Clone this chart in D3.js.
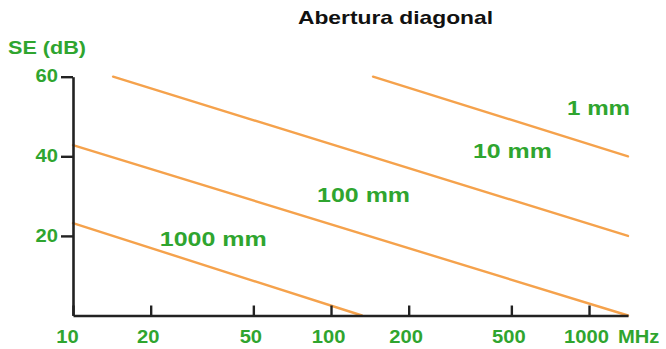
<!DOCTYPE html>
<html>
<head>
<meta charset="utf-8">
<script src="https://cdn.jsdelivr.net/npm/d3@7"></script>
<style>
  html, body { margin: 0; padding: 0; background: #fff; }
  svg { display: block; }
  text { font-family: "Liberation Sans", Arial, sans-serif; font-weight: bold; }
</style>
</head>
<body>
<svg id="chart" width="666" height="349"></svg>
<script>
// Shielding effectiveness of a slot versus frequency, per aperture diagonal
const apertures = ["1 mm", "10 mm", "100 mm", "1000 mm"];
const freqStart = [145.5, 14.3, 10, 10];      // MHz
const seStart   = [60, 60, 42.8, 23.2];       // dB
const freqEnd   = [1416, 1416, 1416, 131.8];  // MHz
const seEnd     = [40, 20, 0, 0];             // dB

const xTicks = [10, 20, 50, 100, 200, 500, 1000];
const yTicks = [20, 40, 60];

// Where each aperture label sits (left edge / baseline, in data units)
const labelFreq = [822, 355, 88.3, 21.7];
const labelSE   = [50.4, 39.6, 28.5, 17.5];
const labelWidth = [63, 79, 93, 107];

const GREEN = "#2fa52f";
const ORANGE = "#f5a24c";
const AXIS = "#222";

const svg = d3.select("#chart");

const x = d3.scaleLog().domain([10, 1416]).range([73, 628]);
const y = d3.scaleLinear().domain([0, 60]).range([315.5, 76.7]);

// stretch text horizontally by a factor, keeping its left/anchor position
function widen(sel, k) {
  sel.each(function () {
    const w = this.getComputedTextLength();
    d3.select(this).attr("textLength", w * k).attr("lengthAdjust", "spacingAndGlyphs");
  });
}

// Title
svg.append("text")
  .attr("x", 395.5).attr("y", 24)
  .attr("text-anchor", "middle")
  .attr("font-size", 19)
  .attr("fill", "#111")
  .text("Abertura diagonal")
  .call(widen, 1.2);

// Y axis title
svg.append("text")
  .attr("x", 8).attr("y", 54)
  .attr("font-size", 18)
  .attr("fill", GREEN)
  .text("SE (dB)")
  .call(widen, 1.2);

// Aperture lines
const lines = apertures.map((a, i) => [[freqStart[i], seStart[i]], [freqEnd[i], seEnd[i]]]);
const lineGen = d3.line().x(d => x(d[0])).y(d => y(d[1]));
svg.append("g")
  .selectAll("path")
  .data(lines)
  .join("path")
  .attr("d", lineGen)
  .attr("fill", "none")
  .attr("stroke", ORANGE)
  .attr("stroke-width", 2.4)
  .attr("stroke-linecap", "round");

// Y axis
const yAxis = svg.append("g")
  .attr("transform", `translate(${x(10)},0)`)
  .call(d3.axisLeft(y).tickValues(yTicks).tickSize(12).tickSizeOuter(0).tickPadding(3).tickFormat(d3.format("d")));
yAxis.select(".domain").attr("stroke", AXIS).attr("stroke-width", 2.6);
yAxis.selectAll(".tick line").attr("stroke", AXIS).attr("stroke-width", 2.4);
yAxis.selectAll(".tick text")
  .attr("font-size", 18)
  .attr("font-family", null)
  .attr("fill", GREEN)
  .attr("dy", "0.32em")
  .attr("y", -0.5)
  .call(widen, 1.12);

// X axis
const xAxis = svg.append("g")
  .attr("transform", `translate(0,${y(0)})`)
  .call(d3.axisBottom(x).tickValues(xTicks).tickSize(-10).tickSizeOuter(0).tickPadding(15).tickFormat(d3.format("d")));
xAxis.select(".domain").attr("stroke", AXIS).attr("stroke-width", 2.6);
xAxis.selectAll(".tick line").attr("stroke", AXIS).attr("stroke-width", 2.4);
xAxis.selectAll(".tick text")
  .attr("font-size", 18)
  .attr("font-family", null)
  .attr("fill", GREEN)
  .attr("dx", d => d === 10 ? -6 : -3)
  .call(widen, 1.12);

svg.append("text")
  .attr("x", 618).attr("y", 343)
  .attr("font-size", 18)
  .attr("fill", GREEN)
  .text("MHz")
  .call(widen, 1.12);

// Aperture labels
svg.append("g")
  .selectAll("text")
  .data(apertures)
  .join("text")
  .attr("x", (d, i) => x(labelFreq[i]))
  .attr("y", (d, i) => y(labelSE[i]))
  .attr("font-size", 20)
  .attr("fill", GREEN)
  .attr("textLength", (d, i) => labelWidth[i])
  .attr("lengthAdjust", "spacingAndGlyphs")
  .text(d => d);
</script>
</body>
</html>
